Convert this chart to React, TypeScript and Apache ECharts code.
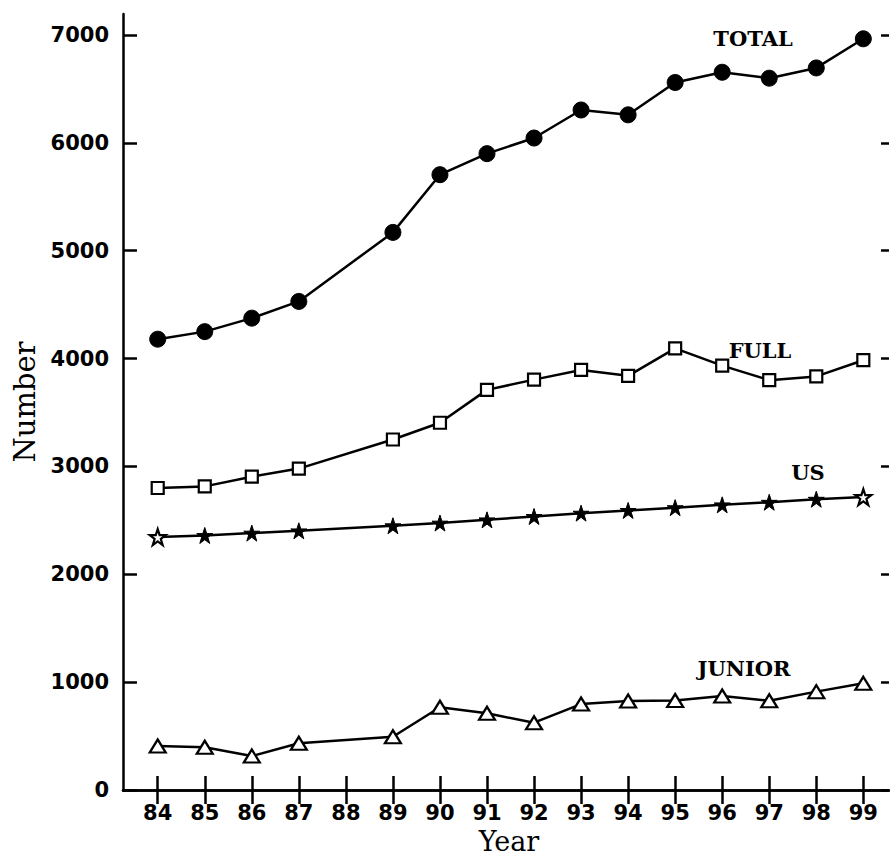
import React, { useEffect, useRef } from "react";
import * as echarts from "echarts";

const years = [84, 85, 86, 87, 89, 90, 91, 92, 93, 94, 95, 96, 97, 98, 99];
const tickYears = [84, 85, 86, 87, 88, 89, 90, 91, 92, 93, 94, 95, 96, 97, 98, 99];
const yTicks = [0, 1000, 2000, 3000, 4000, 5000, 6000, 7000];

const total = [4180, 4250, 4375, 4530, 5170, 5705, 5900, 6045, 6305, 6260, 6560, 6655, 6600, 6695, 6965];
const full = [2800, 2815, 2905, 2980, 3250, 3405, 3710, 3805, 3895, 3840, 4095, 3935, 3800, 3835, 3985];
const us = [2345, 2360, 2382, 2403, 2450, 2475, 2505, 2536, 2567, 2592, 2618, 2644, 2668, 2696, 2716];
const junior = [408, 396, 315, 433, 494, 767, 711, 624, 797, 825, 830, 871, 828, 912, 989];

const seriesLabels = [
  { text: "TOTAL", x: 753, y: 38 },
  { text: "FULL", x: 760, y: 350 },
  { text: "US", x: 808, y: 472 },
  { text: "JUNIOR", x: 744, y: 668 },
];

const pairs = (vals: number[]) => years.map((y, i) => [y, vals[i]]);

export default function App() {
  const ref = useRef<HTMLDivElement>(null);
  useEffect(() => {
    if (!ref.current) return;
    document.body.style.margin = "0";
    const chart = echarts.init(ref.current, null, { renderer: "svg" });
    const tickFont = { fontFamily: "DejaVu Sans", fontWeight: "bold" as const, fontSize: 21, color: "#000" };
    const axisLineStyle = { color: "#000", width: 2.5 };
    const xBase = {
      type: "value" as const,
      min: 83.262,
      max: 99.546,
      splitLine: { show: false },
      axisLine: { show: true, lineStyle: axisLineStyle },
      axisTick: { show: true, inside: true, length: 14, customValues: tickYears, lineStyle: axisLineStyle },
    };
    const yBase = {
      type: "value" as const,
      min: 0,
      max: 7195,
      splitLine: { show: false },
      axisLine: { show: true, lineStyle: axisLineStyle },
      axisTick: { show: true, inside: true, length: 14, customValues: yTicks, lineStyle: axisLineStyle },
    };
    const lineBase = {
      type: "line" as const,
      lineStyle: { color: "#000", width: 2.5 },
      itemStyle: { color: "#000", borderColor: "#000" },
      z: 3,
    };
    const hollow = { color: "#fff", borderColor: "#000", borderWidth: 2.2 };
    const serifLabel = {
      fontFamily: "DejaVu Serif",
      fontWeight: "bold" as const,
      fill: "#000",
      textAlign: "center" as const,
      textVerticalAlign: "middle" as const,
    };
    chart.setOption({
      animation: false,
      backgroundColor: "#fff",
      grid: { left: 123, top: 14, right: 1, bottom: 68, containLabel: false },
      xAxis: [
        {
          ...xBase,
          position: "bottom",
          axisLabel: { show: true, customValues: tickYears, margin: 12, formatter: (v: number) => String(v), ...tickFont },
        },
        { ...xBase, position: "top", axisLabel: { show: false } },
      ],
      yAxis: [
        {
          ...yBase,
          position: "left",
          axisLabel: { show: true, customValues: yTicks, margin: 14, formatter: (v: number) => String(v), ...tickFont },
        },
        {
          ...yBase,
          position: "right",
          axisLine: { show: false },
          axisTick: { show: true, inside: true, length: 8, customValues: yTicks, lineStyle: axisLineStyle },
          axisLabel: { show: false },
        },
      ],
      series: [
        {
          ...lineBase,
          name: "TOTAL",
          data: pairs(total),
          symbol: "circle",
          symbolSize: 16,
        },
        {
          ...lineBase,
          name: "FULL",
          data: pairs(full),
          symbol: "rect",
          symbolSize: 12,
          itemStyle: hollow,
        },
        {
          ...lineBase,
          name: "US",
          data: pairs(us).map((p, i) =>
            i === 0 || i === years.length - 1 ? { value: p, itemStyle: hollow } : { value: p }
          ),
          symbol: "path://M50,0 L61.8,35.1 L98.9,35.1 L68.9,56.9 L80.3,92.1 L50,70.4 L19.7,92.1 L31.1,56.9 L1.1,35.1 L38.2,35.1 Z",
          symbolSize: 16,
          itemStyle: { color: "#000", borderColor: "#000", borderWidth: 1 },
        },
        {
          ...lineBase,
          name: "JUNIOR",
          data: pairs(junior),
          symbol: "triangle",
          symbolSize: [16, 13],
          itemStyle: hollow,
        },
      ],
      graphic: [
        ...seriesLabels.map((l) => ({
          type: "text",
          x: l.x,
          y: l.y,
          style: { ...serifLabel, text: l.text, fontSize: 21 },
        })),
        {
          type: "text",
          x: 25,
          y: 402,
          rotation: Math.PI / 2,
          style: { ...serifLabel, fontWeight: "normal", text: "Number", fontSize: 29 },
        },
        {
          type: "text",
          x: 509,
          y: 841,
          style: { ...serifLabel, fontWeight: "normal", text: "Year", fontSize: 27 },
        },
      ],
    });
    return () => chart.dispose();
  }, []);
  return (
    <div
      ref={ref}
      style={{ position: "absolute", left: 0, top: 0, width: 890, height: 858, background: "#fff" }}
    />
  );
}
